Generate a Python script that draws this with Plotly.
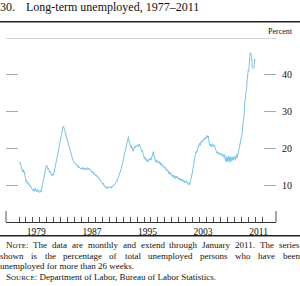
import plotly.graph_objects as go
import pandas as pd

# ---------------- data (monthly, Jan 1977 - Jan 2011), percent ----------------
long_term_pct = [
    16.3, 16.0, 16.2, 15.6, 14.8, 13.9, 13.6, 14.2, 13.5, 13.8, 12.9, 12.0,  # 1977
    11.0, 11.4, 10.6, 10.9, 10.2, 10.5, 9.8, 9.6, 9.9, 9.2, 9.0, 8.7,        # 1978
    8.6, 8.9, 8.3, 8.8, 9.2, 8.5, 8.7, 8.2, 8.9, 8.4, 8.6, 8.0,              # 1979
    8.3, 8.6, 8.1, 8.9, 9.6, 10.4, 11.5, 12.6, 13.4, 14.2, 14.7, 15.2,       # 1980
    15.4, 14.8, 14.3, 14.6, 13.9, 13.4, 13.7, 13.1, 12.8, 12.6, 13.0, 12.7,  # 1981
    13.0, 13.6, 14.5, 15.2, 16.0, 16.9, 17.4, 18.5, 19.3, 20.1, 21.0, 21.8,  # 1982
    23.0, 23.9, 24.6, 25.3, 25.9, 26.0, 25.4, 24.8, 24.0, 23.6, 23.2, 22.7,  # 1983
    22.0, 21.5, 21.0, 20.6, 19.8, 19.2, 18.6, 18.0, 17.3, 16.9, 16.6, 16.2,  # 1984
    16.1, 15.8, 15.9, 15.4, 15.6, 15.1, 15.3, 14.7, 15.0, 14.8, 14.9, 14.4,  # 1985
    14.6, 14.3, 14.9, 14.5, 14.2, 14.7, 14.4, 14.6, 14.1, 14.5, 14.8, 14.3,  # 1986
    14.6, 14.2, 14.5, 14.4, 14.0, 13.6, 13.9, 13.5, 13.2, 13.6, 13.0, 12.8,  # 1987
    12.9, 12.5, 12.8, 12.2, 12.4, 11.9, 12.1, 11.5, 11.7, 11.2, 10.9, 11.0,  # 1988
    10.6, 10.2, 10.5, 9.8, 10.0, 9.4, 9.7, 9.2, 9.5, 9.0, 9.6, 9.3,          # 1989
    9.4, 9.7, 9.3, 9.5, 9.2, 9.8, 9.6, 9.9, 10.2, 10.0, 10.5, 10.8,          # 1990
    11.0, 11.3, 11.1, 11.8, 12.2, 12.5, 13.0, 13.4, 13.8, 14.6, 15.4, 16.1,  # 1991
    16.8, 17.5, 18.3, 19.0, 19.8, 20.6, 21.2, 21.9, 22.4, 23.2, 22.0, 21.6,  # 1992
    21.0, 20.4, 20.8, 19.9, 20.3, 19.2, 19.6, 20.1, 20.5, 20.2, 20.7, 20.4,  # 1993
    20.6, 21.0, 20.5, 20.9, 21.2, 20.7, 20.4, 19.8, 19.2, 19.5, 18.6, 18.0,  # 1994
    17.7, 17.2, 17.6, 16.8, 17.1, 16.5, 16.9, 16.3, 16.7, 17.2, 16.9, 17.4,  # 1995
    16.8, 17.3, 17.8, 18.3, 19.1, 18.2, 17.3, 16.8, 16.4, 16.9, 16.2, 16.5,  # 1996
    16.6, 16.0, 16.4, 15.8, 16.2, 15.5, 15.9, 15.3, 15.6, 14.9, 15.2, 14.8,  # 1997
    14.6, 14.9, 14.1, 14.4, 13.8, 14.2, 13.5, 13.1, 13.6, 13.0, 13.4, 12.7,  # 1998
    12.9, 12.4, 12.8, 12.1, 12.6, 12.3, 11.8, 12.4, 12.0, 12.5, 11.7, 11.9,  # 1999
    11.6, 12.0, 11.4, 11.8, 11.2, 11.6, 11.1, 11.5, 10.9, 11.3, 10.7, 11.0,  # 2000
    10.8, 11.2, 10.6, 10.9, 10.3, 10.1, 10.6, 10.2, 10.9, 11.5, 12.0, 12.6,  # 2001
    13.8, 15.0, 16.2, 16.9, 17.8, 18.6, 19.2, 18.8, 19.5, 20.1, 20.7, 21.0,  # 2002
    21.4, 20.8, 21.7, 22.0, 21.6, 22.3, 22.0, 22.5, 22.8, 22.4, 23.0, 22.7,  # 2003
    23.2, 23.5, 22.9, 23.4, 22.1, 21.5, 20.8, 21.2, 20.4, 20.8, 21.3, 20.5,  # 2004
    20.6, 21.0, 20.7, 20.2, 19.6, 19.2, 18.7, 19.1, 18.5, 18.9, 18.6, 18.3,  # 2005
    18.7, 18.2, 18.5, 17.9, 18.4, 18.0, 17.6, 18.3, 17.2, 16.5, 17.8, 16.4,  # 2006
    17.5, 16.4, 17.9, 16.8, 17.6, 16.2, 17.8, 17.3, 16.6, 17.7, 16.9, 17.5,  # 2007
    17.2, 17.9, 16.8, 17.6, 18.3, 17.4, 18.2, 18.8, 20.0, 20.3, 21.8, 22.3,  # 2008
    22.6, 23.9, 24.4, 26.8, 28.0, 29.1, 32.9, 33.0, 35.6, 35.6, 38.3, 40.1,  # 2009
    41.2, 40.9, 44.1, 45.7, 46.0, 45.5, 44.9, 42.0, 41.7, 41.8, 41.9, 44.3,  # 2010
    43.8,                                                                    # 2011
]
start_month = "1977-01-01"
y_ticks = [10, 20, 30, 40]
year_labels = ["1979", "1987", "1995", "2003", "2011"]
tick_years = list(range(1977, 2013))

title_num = "30."
title_text = "Long-term unemployed, 1977\u20132011"
unit_text = "Percent"

# ---------------- geometry ----------------
W, H = 300, 286
ML, MR, MT, MB = 6, 24, 38, 64
PW, PH = W - ML - MR, H - MT - MB
SERIF = "Liberation Serif, Times New Roman, serif"
LINE_COLOR = "#7cc3e5"


def px_x(px):
    return (px - ML) / PW


def px_y(py):
    return (H - MB - py) / PH


months = pd.date_range(start_month, periods=len(long_term_pct), freq="MS")

fig = go.Figure()
fig.add_trace(go.Scatter(
    x=months, y=long_term_pct, mode="lines",
    line=dict(color=LINE_COLOR, width=1), hoverinfo="skip", showlegend=False,
))

fig.update_layout(
    width=W, height=H,
    margin=dict(l=ML, r=MR, t=MT, b=MB, pad=0),
    paper_bgcolor="white", plot_bgcolor="white",
    font=dict(family=SERIF, color="#111", size=10),
    xaxis=dict(
        type="date",
        range=["1975-02-17", "2014-01-01"],
        tickvals=[f"{y}-07-01" for y in year_labels],
        ticktext=year_labels,
        ticks="", showgrid=False, zeroline=False,
        showline=True, linecolor="#333", linewidth=1,
        tickfont=dict(family=SERIF, size=9.5, color="#111"),
        ticklabelstandoff=1,
        minor=dict(tickvals=[f"{y}-01-01" for y in tick_years], ticks="inside",
                   ticklen=5, tickcolor="#555", tickwidth=1, showgrid=False),
    ),
    yaxis=dict(
        range=[0, 50], tickvals=y_ticks, ticktext=[str(v) for v in y_ticks],
        side="right", ticks="inside", ticklen=12, tickcolor="#aaa", tickwidth=1,
        mirror="ticks", showline=False, showgrid=False, zeroline=False,
        tickfont=dict(family=SERIF, size=10, color="#111"),
        ticklabelstandoff=5,
    ),
)

shapes = []
# top frame line at 50
shapes.append(dict(type="line", xref="paper", yref="y", x0=0, x1=1, y0=50, y1=50,
                   line=dict(color="#aaa", width=1)))
# tall border ticks at the ends of the x axis
for xx in (0, 1):
    shapes.append(dict(type="line", xref="paper", yref="paper", x0=xx, x1=xx,
                       y0=0, y1=px_y(211), line=dict(color="#555", width=1)))
# heavy rules above and below chart
shapes.append(dict(type="line", xref="paper", yref="paper", x0=px_x(0), x1=px_x(300),
                   y0=px_y(21.7), y1=px_y(21.7), line=dict(color="#222", width=1.6)))
shapes.append(dict(type="line", xref="paper", yref="paper", x0=px_x(0), x1=px_x(300),
                   y0=px_y(235.7), y1=px_y(235.7), line=dict(color="#222", width=1.6)))
fig.update_layout(shapes=shapes)

ann = []


def add_text(text, px, py, size, xanchor="left", color="#111"):
    ann.append(dict(text=text, xref="paper", yref="paper", x=px_x(px), y=px_y(py),
                    xanchor=xanchor, yanchor="middle", showarrow=False,
                    borderpad=0, borderwidth=0,
                    font=dict(family=SERIF, size=size, color=color)))


add_text(title_num, 0, 7, 12)
add_text(title_text, 26, 7, 12)
add_text(unit_text, 293, 31.5, 8, xanchor="right")

# ---- justified note text ----
CW = {' ': 250, 'a': 444, 'b': 500, 'c': 444, 'd': 500, 'e': 444, 'f': 333, 'g': 500,
      'h': 500, 'i': 278, 'j': 278, 'k': 500, 'l': 278, 'm': 778, 'n': 500, 'o': 500,
      'p': 500, 'q': 500, 'r': 333, 's': 389, 't': 278, 'u': 500, 'v': 500, 'w': 722,
      'x': 500, 'y': 500, 'z': 444, 'A': 722, 'B': 667, 'C': 667, 'D': 722, 'E': 611,
      'F': 556, 'G': 722, 'H': 722, 'I': 333, 'J': 389, 'K': 722, 'L': 611, 'M': 889,
      'N': 722, 'O': 722, 'P': 556, 'Q': 722, 'R': 667, 'S': 556, 'T': 611, 'U': 722,
      'V': 722, 'W': 944, 'X': 722, 'Y': 722, 'Z': 611, '.': 250, ',': 250, ':': 278,
      '-': 333}
for d in "0123456789":
    CW[d] = 500

NOTE_FS = 9
SC_FS = 7


def seg_width(segs):
    return sum(CW.get(ch, 500) * sz / 1000 for txt, sz in segs for ch in txt)


def seg_html(segs):
    out = ""
    for txt, sz in segs:
        if sz != NOTE_FS:
            out += f'<span style="font-size:{sz}px">{txt}</span>'
        else:
            out += txt
    return out


def justify(words, x0, x1, py):
    widths = [seg_width(w) for w in words]
    gap = (x1 - x0 - sum(widths)) / (len(words) - 1)
    x = x0
    last = len(words) - 1
    for i, (w, wd) in enumerate(zip(words, widths)):
        if i == last:
            add_text(seg_html(w), x1, py, NOTE_FS, xanchor="right")
        else:
            add_text(seg_html(w), x, py, NOTE_FS)
        x += wd + gap


note_line1 = "The data are monthly and extend through January 2011. The series"
note_line2 = "shown is the percentage of total unemployed persons who have been"
note_line3 = "unemployed for more than 26 weeks."
source_text = ": Department of Labor, Bureau of Labor Statistics."

words1 = [[("N", NOTE_FS), ("OTE", SC_FS), (":", NOTE_FS)]] + \
         [[(w, NOTE_FS)] for w in note_line1.split()]
justify(words1, 6, 299.5, 245)
justify([[(w, NOTE_FS)] for w in note_line2.split()], 0, 299.5, 255.6)
add_text(note_line3, 0, 266, NOTE_FS)
add_text(f'S<span style="font-size:{SC_FS}px">OURCE</span>{source_text}', 6, 276.7, NOTE_FS)

fig.update_layout(annotations=ann)
fig.write_html("out.html")
